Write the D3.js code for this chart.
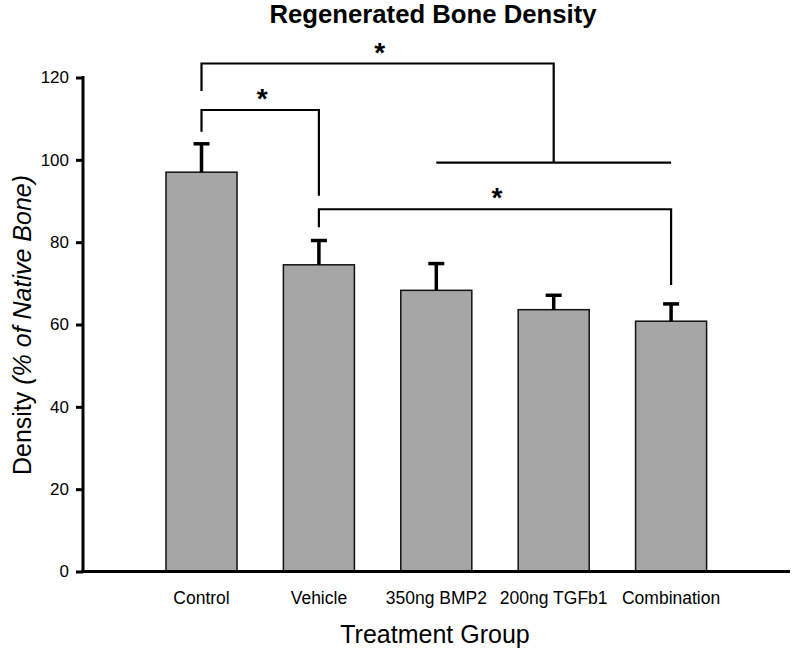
<!DOCTYPE html>
<html>
<head>
<meta charset="utf-8">
<script src="https://cdn.jsdelivr.net/npm/d3@7"></script>
<style>
  html, body { margin: 0; padding: 0; background: #fff; }
  svg { display: block; font-family: "Liberation Sans", Arial, sans-serif; }
</style>
</head>
<body>
<svg id="chart" width="792" height="650"></svg>
<script>
// ---- data ----
const categories = ["Control", "Vehicle", "350ng BMP2", "200ng TGFb1", "Combination"];
const means      = [97.0, 74.5, 68.3, 63.6, 60.8];
const errUpper   = [103.9, 80.4, 74.8, 67.1, 65.0];
const yTicks     = [0, 20, 40, 60, 80, 100, 120];

// significance brackets (levels in data units)
const groupLine  = { from: "350ng BMP2", to: "Combination", level: 99.3 };
const brackets = [
  { a: "Control", b: "200ng TGFb1", level: 123.4, aEnd: 116.7, bEnd: 99.3, label: "*" },
  { a: "Control", b: "Vehicle",     level: 112.1, aEnd: 106.8, bEnd: 91.3, label: "*" },
  { a: "Vehicle", b: "Combination", level: 88.0,  aEnd: 83.6,  bEnd: 69.6, label: "*" }
];

// ---- layout ----
const svg = d3.select("#chart");
const x = d3.scaleBand().domain(categories).range([107.3, 765.3])
  .paddingInner(0.395).paddingOuter(0.5);
const y = d3.scaleLinear().domain([0, 120]).range([571.5, 77.5]);
const cx = c => x(c) + x.bandwidth() / 2;

// bars
const rows = categories.map((c, i) => ({ c, m: means[i], e: errUpper[i] }));
svg.append("g").selectAll("rect").data(rows).join("rect")
  .attr("x", d => x(d.c)).attr("width", x.bandwidth())
  .attr("y", d => y(d.m)).attr("height", d => y(0) - y(d.m))
  .attr("fill", "#a6a6a6").attr("stroke", "#111").attr("stroke-width", 1.5);

// error bars
const eb = svg.append("g").attr("stroke", "#000").attr("stroke-width", 3.5);
eb.selectAll("line.v").data(rows).join("line").attr("class", "v")
  .attr("x1", d => cx(d.c)).attr("x2", d => cx(d.c))
  .attr("y1", d => y(d.m)).attr("y2", d => y(d.e));
eb.selectAll("line.h").data(rows).join("line").attr("class", "h")
  .attr("x1", d => cx(d.c) - 8).attr("x2", d => cx(d.c) + 8)
  .attr("y1", d => y(d.e)).attr("y2", d => y(d.e));

// y axis
const yAxis = d3.axisLeft(y).tickValues(yTicks).tickSize(7).tickPadding(7);
const gy = svg.append("g").attr("transform", "translate(83,0)").call(yAxis);
gy.select(".domain").remove();
gy.selectAll(".tick line").attr("stroke", "#000").attr("stroke-width", 3);
gy.selectAll(".tick text").attr("font-size", 17).attr("fill", "#000")
  .attr("font-family", "Liberation Sans, Arial, sans-serif");
svg.append("line").attr("x1", 83).attr("x2", 83).attr("y1", y(120) - 1.5).attr("y2", y(0) + 1.5)
  .attr("stroke", "#000").attr("stroke-width", 3);

// x axis
const xAxis = d3.axisBottom(x).tickSize(0).tickPadding(20);
const gx = svg.append("g").attr("transform", `translate(0,${y(0)})`).call(xAxis);
gx.select(".domain").remove();
gx.selectAll(".tick text").attr("font-size", 17.5).attr("fill", "#000")
  .attr("font-family", "Liberation Sans, Arial, sans-serif");
svg.append("line").attr("x1", 81.5).attr("x2", 790).attr("y1", y(0)).attr("y2", y(0))
  .attr("stroke", "#000").attr("stroke-width", 3);

// brackets
const br = svg.append("g").attr("fill", "none").attr("stroke", "#000").attr("stroke-width", 2.2);
brackets.forEach(b => {
  const xa = cx(b.a), xb = cx(b.b);
  br.append("path").attr("d",
    `M${xa},${y(b.aEnd)}V${y(b.level)}H${xb}V${y(b.bEnd)}`);
  svg.append("text").attr("x", (xa + xb) / 2 + 2).attr("y", y(b.level) - 2)
    .attr("text-anchor", "middle").attr("font-size", 28).attr("font-weight", "bold")
    .text(b.label);
});
br.append("path").attr("d",
  `M${cx(groupLine.from)},${y(groupLine.level)}H${cx(groupLine.to)}`);

// title
svg.append("text").attr("x", 433).attr("y", 23).attr("text-anchor", "middle")
  .attr("font-size", 26).attr("font-weight", "bold")
  .attr("textLength", 327).attr("lengthAdjust", "spacingAndGlyphs")
  .text("Regenerated Bone Density");

// axis titles
svg.append("text").attr("x", 435).attr("y", 643).attr("text-anchor", "middle")
  .attr("font-size", 25).text("Treatment Group");
const yl = svg.append("text").attr("transform", "translate(31,325) rotate(-90)")
  .attr("text-anchor", "middle").attr("font-size", 25);
yl.append("tspan").text("Density ");
yl.append("tspan").attr("font-style", "italic").text("(% of Native Bone)");
</script>
</body>
</html>
